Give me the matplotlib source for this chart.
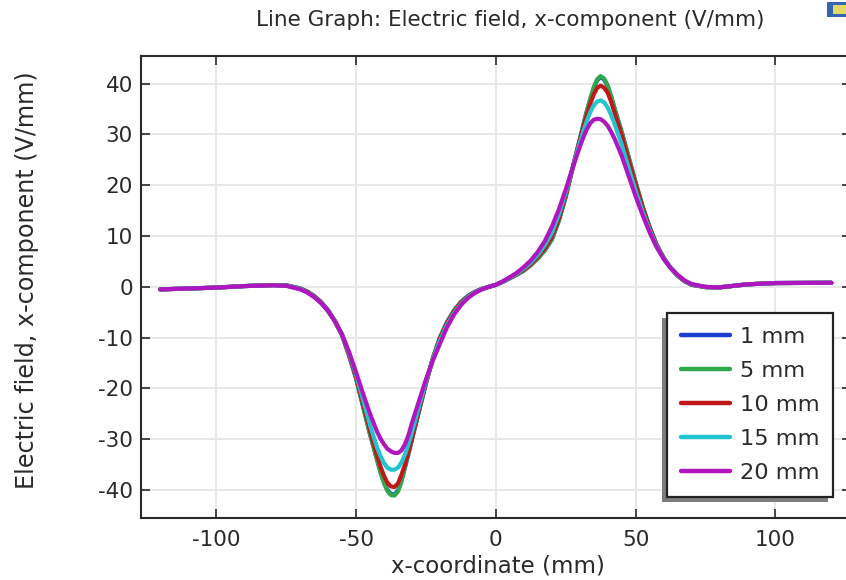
import matplotlib
matplotlib.use("Agg")
import matplotlib.pyplot as plt
from matplotlib.patches import Rectangle
from matplotlib.transforms import IdentityTransform

plt.rcParams['font.family'] = ['DejaVu Sans']
plt.rcParams['axes.unicode_minus'] = False

# ---------------- data ----------------
x_mm = [-120, -100, -90, -80, -75,
        -70, -67.5, -65, -62.5, -60, -57.5, -55, -52.5, -50, -47.5, -45,
        -42.5, -41.25, -40, -38.75, -37.5, -36.25, -35, -33.75, -32.5, -31.25, -30,
        -27.5, -25, -22.5, -20, -17.5, -15, -12.5, -10, -7.5, -5, -2.5, 0,
        2.5, 5, 7.5, 10, 12.5, 15, 17.5, 20, 22.5, 25, 27.5,
        30, 31.25, 32.5, 33.75, 35, 36.25, 37.5, 38.75, 40, 41.25, 42.5,
        45, 47.5, 50, 52.5, 55, 57.5, 60, 62.5, 65, 67.5, 70,
        75, 80, 90, 100, 120]

E_1mm = [-0.5, -0.15, 0.15, 0.35, 0.3,
         -0.3, -0.9, -1.8, -3.0, -4.6, -6.8, -9.5, -13.5, -18.0, -23.5, -29.0,
         -34.0, -36.5, -38.5, -40.0, -40.8, -40.9, -40.1, -38.2, -35.5, -32.9, -30.0,
         -24.5, -19.0, -14.0, -10.0, -7.0, -4.7, -3.0, -1.8, -1.0, -0.4, 0.0, 0.4,
         1.0, 1.7, 2.4, 3.2, 4.3, 5.6, 7.2, 9.3, 13.0, 17.8, 23.5,
         29.0, 31.8, 34.5, 36.9, 39.1, 40.7, 41.3, 40.8, 39.5, 37.4, 35.0,
         30.5, 25.5, 20.5, 15.8, 11.7, 8.3, 5.7, 3.7, 2.2, 1.1, 0.4,
         -0.05, -0.1, 0.5, 0.75, 0.8]

E_5mm = [-0.5, -0.15, 0.15, 0.35, 0.3,
         -0.3, -0.9, -1.8, -3.0, -4.6, -6.8, -9.5, -13.5, -18.0, -23.5, -29.0,
         -34.0, -36.5, -38.6, -40.2, -41.0, -41.1, -40.3, -38.3, -35.5, -32.9, -30.0,
         -24.5, -19.0, -14.0, -10.0, -7.0, -4.7, -3.0, -1.8, -1.0, -0.4, 0.0, 0.4,
         1.0, 1.7, 2.4, 3.2, 4.3, 5.6, 7.2, 9.3, 13.0, 17.8, 23.5,
         29.0, 31.8, 34.5, 37.0, 39.3, 40.9, 41.5, 41.0, 39.6, 37.5, 35.0,
         30.5, 25.5, 20.5, 15.8, 11.7, 8.3, 5.7, 3.7, 2.2, 1.1, 0.4,
         -0.05, -0.1, 0.5, 0.75, 0.8]

E_10mm = [-0.5, -0.15, 0.15, 0.35, 0.3,
          -0.35, -0.95, -1.85, -3.05, -4.65, -6.8, -9.5, -13.3, -17.7, -23.0, -28.3,
          -33.2, -35.4, -37.2, -38.6, -39.3, -39.4, -38.7, -37.0, -35.0, -32.5, -29.8,
          -24.3, -18.9, -14.1, -10.2, -7.2, -4.9, -3.1, -1.9, -1.0, -0.4, 0.0, 0.4,
          1.0, 1.75, 2.5, 3.35, 4.5, 5.9, 7.6, 9.8, 13.4, 18.0, 23.5,
          28.8, 31.4, 33.8, 36.0, 37.9, 39.2, 39.6, 39.2, 38.2, 36.4, 34.2,
          29.8, 24.9, 20.1, 15.6, 11.6, 8.2, 5.7, 3.75, 2.25, 1.15, 0.45,
          -0.05, -0.1, 0.5, 0.75, 0.8]

E_15mm = [-0.5, -0.15, 0.15, 0.33, 0.25,
          -0.4, -1.05, -1.95, -3.15, -4.75, -6.8, -9.4, -13.0, -17.2, -22.2, -27.2,
          -31.6, -33.3, -34.7, -35.6, -36.0, -36.0, -35.6, -34.6, -33.0, -31.0, -28.6,
          -23.6, -18.6, -14.2, -10.6, -7.6, -5.2, -3.4, -2.0, -1.1, -0.45, 0.0, 0.4,
          1.05, 1.8, 2.6, 3.6, 4.8, 6.3, 8.2, 10.6, 14.2, 18.6, 23.5,
          28.3, 30.6, 32.6, 34.4, 35.7, 36.5, 36.7, 36.3, 35.3, 33.8, 32.0,
          28.0, 23.4, 18.9, 14.8, 11.1, 8.0, 5.6, 3.8, 2.3, 1.2, 0.5,
          -0.02, -0.1, 0.5, 0.75, 0.8]

E_20mm = [-0.5, -0.15, 0.15, 0.3, 0.2,
          -0.5, -1.1, -2.0, -3.2, -4.8, -6.8, -9.4, -12.8, -16.8, -21.0, -25.0,
          -28.5, -29.9, -31.0, -31.9, -32.4, -32.7, -32.7, -32.2, -31.0, -29.2, -26.8,
          -22.5, -18.2, -14.5, -11.2, -8.0, -5.5, -3.6, -2.2, -1.2, -0.5, 0.0, 0.4,
          1.1, 1.9, 2.8, 3.9, 5.2, 6.9, 9.0, 11.8, 15.2, 19.2, 23.5,
          27.5, 29.4, 31.0, 32.2, 32.9, 33.1, 33.0, 32.5, 31.7, 30.5, 29.1,
          25.8, 21.8, 17.8, 14.1, 10.7, 7.8, 5.5, 3.7, 2.35, 1.25, 0.55,
          0.0, -0.1, 0.5, 0.75, 0.8]

series_labels = ["1 mm", "5 mm", "10 mm", "15 mm", "20 mm"]
series_values = [E_1mm, E_5mm, E_10mm, E_15mm, E_20mm]
series_colors = ["#1a3fcf", "#30a84c", "#c01818", "#22c4cf", "#b016bf"]

x_ticks = [-100, -50, 0, 50, 100]
y_ticks = [-40, -30, -20, -10, 0, 10, 20, 30, 40]

title_text = "Line Graph: Electric field, x-component (V/mm)"
x_label = "x-coordinate (mm)"
y_label = "Electric field, x-component (V/mm)"

# ---------------- figure ----------------
W, H = 846, 580
fig = plt.figure(figsize=(W / 100, H / 100), dpi=100)
ax_l, ax_r, ax_t, ax_b = 140.7, 851.0, 56.0, 517.7
ax = fig.add_axes([ax_l / W, 1 - ax_b / H, (ax_r - ax_l) / W, (ax_b - ax_t) / H])

text_col = "#2a2a2a"
for lab, vals, col in zip(series_labels, series_values, series_colors):
    ax.plot(x_mm, vals, color=col, lw=3.0, label=lab,
            solid_joinstyle="round", solid_capstyle="round")

ax.set_xlim(-127, 127)
ax.set_ylim(-45.45, 45.45)
ax.set_xticks(x_ticks)
ax.set_yticks(y_ticks)
ax.grid(True, color="#e6e6e6", lw=1.3)
ax.set_axisbelow(True)

for s in ax.spines.values():
    s.set_color("#2a2a2a")
    s.set_linewidth(1.5)

ax.tick_params(direction="in", length=6.5, width=1.2, top=True, right=True,
               colors="#2a2a2a", labelcolor=text_col, labelsize=15.5)
ax.tick_params(axis="x", pad=9)
ax.tick_params(axis="y", pad=5.5)

fig.text(510 / W, 1 - 20 / H, title_text, ha="center", va="center",
         fontsize=15.5, color=text_col)
fig.text(498 / W, 1 - 566 / H, x_label, ha="center", va="center",
         fontsize=16.5, color=text_col)
fig.text(27 / W, 1 - 280 / H, y_label, ha="center", va="center",
         rotation=90, fontsize=17.2, color=text_col)

# legend
ax_w = ax_r - ax_l
ax_h = ax_b - ax_t
leg = ax.legend(loc="upper right",
                bbox_to_anchor=((833.3 - ax_l) / ax_w, (ax_b - 313.3) / ax_h),
                borderaxespad=0, frameon=True, fancybox=False,
                edgecolor="#222222", facecolor="white", framealpha=1,
                fontsize=16.2, handlelength=2.15, handletextpad=0.45,
                labelspacing=0.62, borderpad=0.62)
leg.get_frame().set_linewidth(1.6)
for line in leg.get_lines():
    line.set_linewidth(3.2)
for t in leg.get_texts():
    t.set_color(text_col)

# small window icon at top right
fig.add_artist(Rectangle((827 / W, 1 - 17 / H), 20 / W, 15 / H,
                         transform=fig.transFigure, facecolor="#3566b0",
                         edgecolor="none"))
fig.add_artist(Rectangle((833 / W, 1 - 13.5 / H), 14 / W, 8.5 / H,
                         transform=fig.transFigure, facecolor="#e4d86a",
                         edgecolor="none"))

# legend drop shadow (offset down-left)
fig.canvas.draw()
bb = leg.get_frame().get_window_extent()
shadow = Rectangle((bb.x0 - 5, bb.y0 - 5), bb.width, bb.height,
                   transform=IdentityTransform(), facecolor="#7d7d7d",
                   edgecolor="none", zorder=4.5, clip_on=False)
ax.add_artist(shadow)

fig.savefig("out.png", dpi=100)
